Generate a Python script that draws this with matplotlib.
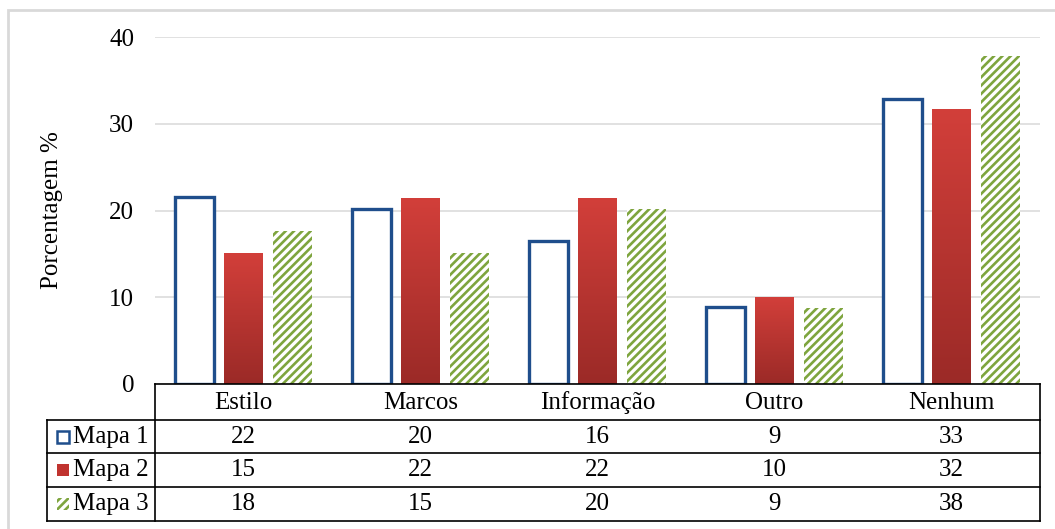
import matplotlib
matplotlib.use("Agg")
import matplotlib.pyplot as plt
import numpy as np
from matplotlib import transforms
from matplotlib.colors import LinearSegmentedColormap
from matplotlib.lines import Line2D
from matplotlib.patches import Rectangle

plt.rcParams["font.family"] = ["Liberation Serif", "DejaVu Serif"]
plt.rcParams["hatch.linewidth"] = 1.9

categories = ["Estilo", "Marcos", "Informação", "Outro", "Nenhum"]
series = ["Mapa 1", "Mapa 2", "Mapa 3"]
mapa1 = [21.6, 20.2, 16.5, 8.9, 32.9]
mapa2 = [15.1, 21.4, 21.4, 10.0, 31.6]
mapa3 = [17.6, 15.1, 20.2, 8.8, 37.8]
table_mapa1 = [22, 20, 16, 9, 33]
table_mapa2 = [15, 22, 22, 10, 32]
table_mapa3 = [18, 15, 20, 9, 38]
yticks = [0, 10, 20, 30, 40]

W, H = 1055, 529
FS = 18
BLUE = "#1f4e8c"
GREEN = "#7ea53e"
RED_CMAP = LinearSegmentedColormap.from_list("red", ["#9b2a27", "#d23f3a"])


def fx(px):
    return px / W


def fy(py):
    return 1 - py / H


fig = plt.figure(figsize=(W / 100, H / 100), dpi=100)
fig.patch.set_facecolor("white")

# outer chart frame
fig.add_artist(Rectangle((fx(8), fy(540)), fx(1070), 530 / H, transform=fig.transFigure,
                         fill=False, edgecolor="#d9d9d9", linewidth=2))

ax_left, ax_right = 155, 1040
ax = fig.add_axes([fx(ax_left), fy(384), fx(ax_right) - fx(ax_left), fy(37) - fy(384)])
ax.set_facecolor("none")
x = np.arange(len(categories))
width = 0.22
offset = 0.277

ax.bar(x - offset, mapa1, width, facecolor="white", edgecolor=BLUE, linewidth=2.4, zorder=3)
red_bars = ax.bar(x, mapa2, width, color="none", zorder=3)
ax.bar(x + offset, mapa3, width, facecolor="white", edgecolor=GREEN, linewidth=0, hatch="////", zorder=3)

grad = np.linspace(0, 1, 256).reshape(-1, 1)
for bar in red_bars:
    x0 = bar.get_x()
    ax.imshow(grad, cmap=RED_CMAP, origin="lower", aspect="auto", zorder=2.9,
              extent=[x0, x0 + bar.get_width(), 0, bar.get_height()])

ax.set_xlim(-0.5, len(categories) - 0.5)
ax.set_ylim(0, 40)
ax.set_yticks(yticks)
ax.set_xticks([])
ax.yaxis.grid(True, color="#d9d9d9", linewidth=1.1)
ax.set_axisbelow(True)
for side in ["top", "right", "left"]:
    ax.spines[side].set_visible(False)
ax.spines["bottom"].set_color("black")
ax.spines["bottom"].set_linewidth(1.2)
ax.spines["bottom"].set_zorder(4)
ax.tick_params(axis="y", length=0, labelsize=FS, pad=15)
ax.set_ylabel("Porcentagem %", fontsize=FS)
ax.yaxis.set_label_coords((63 - ax_left) / (ax_right - ax_left), 0.5)

# data table below the axis
trans = transforms.blended_transform_factory(ax.transData, fig.transFigure)
row_y = [420, 453, 487, 521]
lw = 1.2
fig.add_artist(Line2D([fx(155), fx(155)], [fy(384), fy(521)], color="black", lw=lw, transform=fig.transFigure))
fig.add_artist(Line2D([fx(1040), fx(1040)], [fy(384), fy(521)], color="black", lw=lw, transform=fig.transFigure))
fig.add_artist(Line2D([fx(47), fx(47)], [fy(420), fy(521)], color="black", lw=lw, transform=fig.transFigure))
for ry in row_y:
    fig.add_artist(Line2D([fx(47), fx(1040)], [fy(ry), fy(ry)], color="black", lw=lw, transform=fig.transFigure))

for i, cat in enumerate(categories):
    ax.text(i, fy(403), cat, transform=trans, ha="center", va="center", fontsize=FS, clip_on=False)

rows = [table_mapa1, table_mapa2, table_mapa3]
centers = [437, 470, 504]
for vals, cy in zip(rows, centers):
    for i, v in enumerate(vals):
        ax.text(i, fy(cy), str(v), transform=trans, ha="center", va="center", fontsize=FS, clip_on=False)

# row headers with legend keys
key_styles = [
    dict(facecolor="white", edgecolor=BLUE, linewidth=1.8),
    dict(facecolor="#c0332f", edgecolor="none"),
    dict(facecolor="white", edgecolor=GREEN, linewidth=0, hatch="////"),
]
for name, cy, style in zip(series, centers, key_styles):
    fig.add_artist(Rectangle((fx(57), fy(cy + 6)), 12 / W, 12 / H, transform=fig.transFigure, **style))
    fig.text(fx(73), fy(cy), name, ha="left", va="center", fontsize=FS)

fig.savefig("out.png", dpi=100, facecolor="white")
